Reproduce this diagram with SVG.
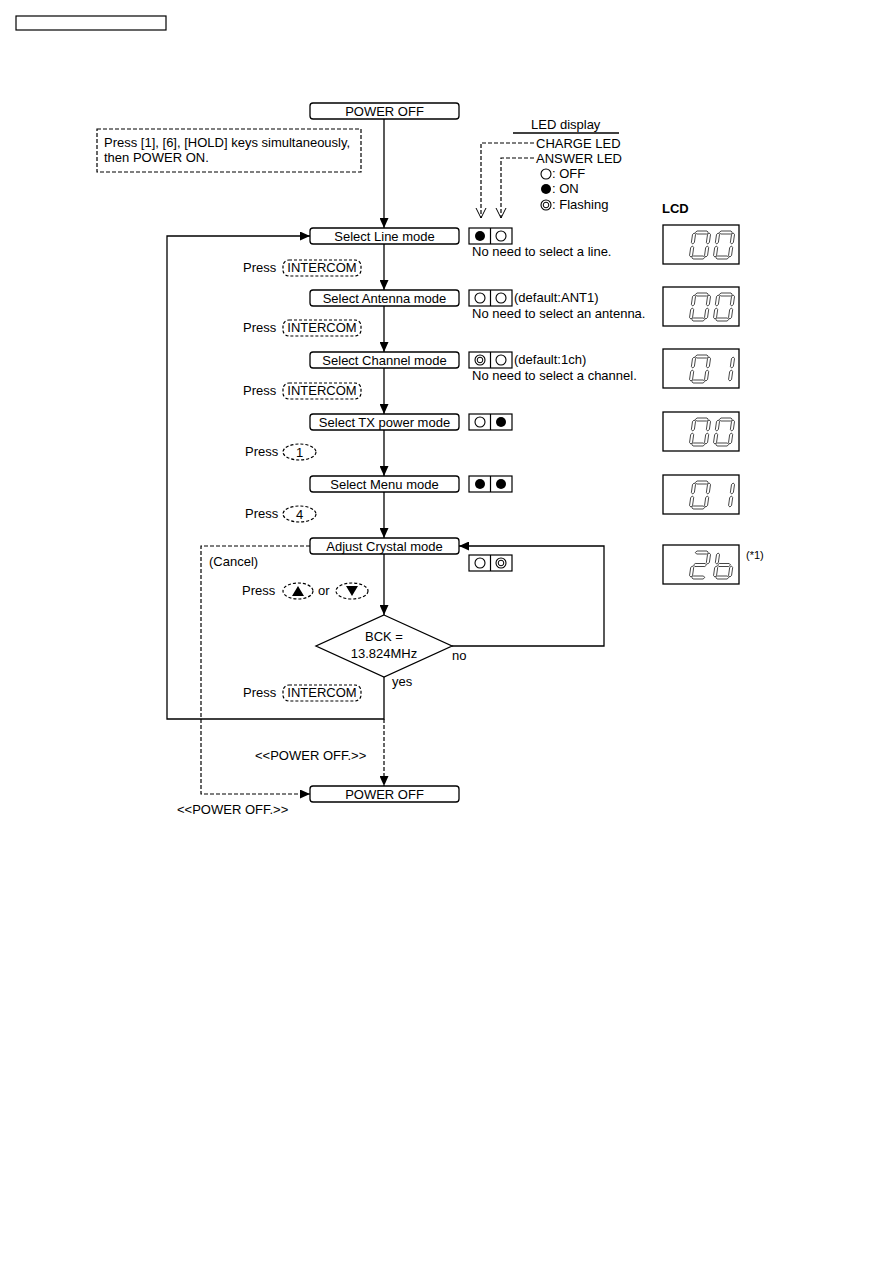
<svg xmlns="http://www.w3.org/2000/svg" width="893" height="1263" viewBox="0 0 893 1263">
<style>
text{font-family:"Liberation Sans",Arial,sans-serif;font-size:13px;fill:#000}
.c{text-anchor:middle}
.box{fill:#fff;stroke:#000;stroke-width:1.3}
.ln{fill:none;stroke:#000;stroke-width:1.3}
.dl{fill:none;stroke:#000;stroke-width:1.2;stroke-dasharray:4 2}
.key{fill:none;stroke:#000;stroke-width:1.2;stroke-dasharray:3 2}
.led{fill:#fff;stroke:#000;stroke-width:1.2}
.seg{fill:#fff;stroke:#000;stroke-width:0.7}
.lcd{fill:#fff;stroke:#000;stroke-width:1.3}
</style>
<defs>
<marker id="ah" markerWidth="10" markerHeight="9" refX="10" refY="4.5" orient="auto" markerUnits="userSpaceOnUse"><path d="M0,0 L10,4.5 L0,9 Z" fill="#000"/></marker>
<marker id="oa" markerWidth="10" markerHeight="12" refX="10" refY="6" orient="auto" markerUnits="userSpaceOnUse"><path d="M0,1 L10,6 L0,11" fill="none" stroke="#000" stroke-width="1"/></marker>
<polygon id="sa" class="seg" points="2.5,1.5 4,0 14,0 15.5,1.5 14,3 4,3"/>
<polygon id="sg" class="seg" points="2.5,14 4,12.5 14,12.5 15.5,14 14,15.5 4,15.5"/>
<polygon id="sd" class="seg" points="2.5,26.5 4,25 14,25 15.5,26.5 14,28 4,28"/>
<polygon id="sf" class="seg" points="1.5,2 3,3.5 3,11.5 1.5,13 0,11.5 0,3.5"/>
<polygon id="sb" class="seg" points="16.5,2 18,3.5 18,11.5 16.5,13 15,11.5 15,3.5"/>
<polygon id="se" class="seg" points="1.5,15 3,16.5 3,24.5 1.5,26 0,24.5 0,16.5"/>
<polygon id="sc" class="seg" points="16.5,15 18,16.5 18,24.5 16.5,26 15,24.5 15,16.5"/>
<g id="d0"><use href="#sa"/><use href="#sb"/><use href="#sc"/><use href="#sd"/><use href="#se"/><use href="#sf"/></g>
<g id="d1"><use href="#sb"/><use href="#sc"/></g>
<g id="d2"><use href="#sa"/><use href="#sb"/><use href="#sg"/><use href="#se"/><use href="#sd"/></g>
<g id="db"><use href="#sf"/><use href="#se"/><use href="#sg"/><use href="#sc"/><use href="#sd"/></g>
<g id="ledbox"><rect class="led" x="0" y="0" width="43" height="16"/><line x1="21.5" y1="0" x2="21.5" y2="16" stroke="#000" stroke-width="1.2"/></g>
<circle id="on" r="5" fill="#000"/>
<circle id="off" r="5" fill="#fff" stroke="#000" stroke-width="1.1"/>
<g id="fl"><circle r="5" fill="#fff" stroke="#000" stroke-width="1.1"/><circle r="2.8" fill="#fff" stroke="#000" stroke-width="1"/></g>
</defs>

<rect x="16" y="16" width="150" height="14" fill="#fff" stroke="#000" stroke-width="1.2"/>

<g id="connectors">
<line class="ln" x1="384" y1="119" x2="384" y2="228" marker-end="url(#ah)"/>
<line class="ln" x1="384" y1="244" x2="384" y2="290" marker-end="url(#ah)"/>
<line class="ln" x1="384" y1="306" x2="384" y2="352" marker-end="url(#ah)"/>
<line class="ln" x1="384" y1="368" x2="384" y2="414" marker-end="url(#ah)"/>
<line class="ln" x1="384" y1="430" x2="384" y2="476" marker-end="url(#ah)"/>
<line class="ln" x1="384" y1="492" x2="384" y2="538" marker-end="url(#ah)"/>
<line class="ln" x1="384" y1="554" x2="384" y2="615" marker-end="url(#ah)"/>
<polyline class="ln" points="452,646 604,646 604,546 459,546" marker-end="url(#ah)"/>
<polyline class="ln" points="384,677 384,719 167,719 167,236 310,236" marker-end="url(#ah)"/>
<line class="dl" x1="384" y1="719" x2="384" y2="786" marker-end="url(#ah)"/>
<polyline class="dl" points="310,546 201,546 201,794 310,794" marker-end="url(#ah)"/>
<polyline class="dl" points="534,143 481,143 481,218" marker-end="url(#oa)"/>
<polyline class="dl" points="534,158 501,158 501,218" marker-end="url(#oa)"/>
</g>

<g id="n-poweroff1"><rect class="box" x="310" y="103" width="149" height="16" rx="3"/><text class="c" x="384.5" y="116">POWER OFF</text></g>
<g id="n-note"><rect class="dl" x="97" y="129" width="264" height="43"/><text x="104" y="147">Press [1], [6], [HOLD] keys simultaneously,</text><text x="104" y="162">then POWER ON.</text></g>
<g id="n-line"><rect class="box" x="310" y="228" width="149" height="16" rx="3"/><text class="c" x="384.5" y="241">Select Line mode</text></g>
<g id="n-antenna"><rect class="box" x="310" y="290" width="149" height="16" rx="3"/><text class="c" x="384.5" y="303">Select Antenna mode</text></g>
<g id="n-channel"><rect class="box" x="310" y="352" width="149" height="16" rx="3"/><text class="c" x="384.5" y="365">Select Channel mode</text></g>
<g id="n-tx"><rect class="box" x="310" y="414" width="149" height="16" rx="3"/><text class="c" x="384.5" y="427">Select TX power mode</text></g>
<g id="n-menu"><rect class="box" x="310" y="476" width="149" height="16" rx="3"/><text class="c" x="384.5" y="489">Select Menu mode</text></g>
<g id="n-crystal"><rect class="box" x="310" y="538" width="149" height="16" rx="3"/><text class="c" x="384.5" y="551">Adjust Crystal mode</text></g>
<g id="n-bck"><polygon class="box" points="384,615 452,646 384,677 316,646"/><text class="c" x="384" y="641">BCK =</text><text class="c" x="384" y="658">13.824MHz</text></g>
<g id="n-poweroff2"><rect class="box" x="310" y="786" width="149" height="16" rx="3"/><text class="c" x="384.5" y="799">POWER OFF</text></g>

<g id="labels">
<text x="243" y="272">Press</text><rect class="key" x="283" y="260" width="78" height="16" rx="6"/><text class="c" x="322" y="272">INTERCOM</text>
<text x="243" y="332">Press</text><rect class="key" x="283" y="320" width="78" height="16" rx="6"/><text class="c" x="322" y="332">INTERCOM</text>
<text x="243" y="395">Press</text><rect class="key" x="283" y="383" width="78" height="16" rx="6"/><text class="c" x="322" y="395">INTERCOM</text>
<text x="245" y="456">Press</text><ellipse class="key" cx="299.5" cy="452" rx="16.5" ry="8"/><text class="c" x="299.5" y="456.5">1</text>
<text x="245" y="518">Press</text><ellipse class="key" cx="299.5" cy="514" rx="16.5" ry="8"/><text class="c" x="299.5" y="518.5">4</text>
<text x="209" y="566">(Cancel)</text>
<text x="242" y="595">Press</text><ellipse class="key" cx="298" cy="591" rx="15" ry="8"/><polygon points="292,596 298,586 304,596" fill="#000"/>
<text x="318" y="595">or</text><ellipse class="key" cx="352" cy="591" rx="16" ry="8"/><polygon points="346,586 358,586 352,596" fill="#000"/>
<text x="452" y="660">no</text>
<text x="392" y="686">yes</text>
<text x="243" y="697">Press</text><rect class="key" x="283" y="685" width="78" height="16" rx="6"/><text class="c" x="322" y="697">INTERCOM</text>
<text x="255" y="760">&lt;&lt;POWER OFF.&gt;&gt;</text>
<text x="177" y="814">&lt;&lt;POWER OFF.&gt;&gt;</text>
</g>

<g id="led-legend">
<text x="531" y="129">LED display</text>
<line x1="513" y1="133" x2="619" y2="133" stroke="#000" stroke-width="1.4"/>
<text x="536" y="148">CHARGE LED</text>
<text x="536" y="163">ANSWER LED</text>
<use href="#off" x="546" y="174" transform="translate(0,0)"/><text x="552" y="178">: OFF</text>
<use href="#on" x="546" y="189"/><text x="552" y="193">: ON</text>
<use href="#fl" x="546" y="205"/><text x="552" y="209">: Flashing</text>
</g>

<g id="leds">
<use href="#ledbox" x="469" y="228"/><use href="#on" x="480" y="236"/><use href="#off" x="501" y="236"/>
<text x="472" y="256">No need to select a line.</text>
<use href="#ledbox" x="469" y="290"/><use href="#off" x="480" y="298"/><use href="#off" x="501" y="298"/>
<text x="514" y="302">(default:ANT1)</text><text x="472" y="318">No need to select an antenna.</text>
<use href="#ledbox" x="469" y="352"/><use href="#fl" x="480" y="360"/><use href="#off" x="501" y="360"/>
<text x="514" y="364">(default:1ch)</text><text x="472" y="380">No need to select a channel.</text>
<use href="#ledbox" x="469" y="414"/><use href="#off" x="480" y="422"/><use href="#on" x="501" y="422"/>
<use href="#ledbox" x="469" y="476"/><use href="#on" x="480" y="484"/><use href="#on" x="501" y="484"/>
<use href="#ledbox" x="469" y="555"/><use href="#off" x="480" y="563"/><use href="#fl" x="501" y="563"/>
</g>

<g id="lcd">
<text x="662" y="213" style="font-weight:bold">LCD</text>
<rect class="lcd" x="663" y="225" width="76" height="39"/>
<use href="#d0" transform="translate(693,231) skewX(-8)"/><use href="#d0" transform="translate(717,231) skewX(-8)"/>
<rect class="lcd" x="663" y="287" width="76" height="39"/>
<use href="#d0" transform="translate(693,293) skewX(-8)"/><use href="#d0" transform="translate(717,293) skewX(-8)"/>
<rect class="lcd" x="663" y="349" width="76" height="39"/>
<use href="#d0" transform="translate(693,355) skewX(-8)"/><use href="#d1" transform="translate(717,355) skewX(-8)"/>
<rect class="lcd" x="663" y="412" width="76" height="39"/>
<use href="#d0" transform="translate(693,418) skewX(-8)"/><use href="#d0" transform="translate(717,418) skewX(-8)"/>
<rect class="lcd" x="663" y="475" width="76" height="39"/>
<use href="#d0" transform="translate(693,481) skewX(-8)"/><use href="#d1" transform="translate(717,481) skewX(-8)"/>
<rect class="lcd" x="663" y="545" width="76" height="39"/>
<use href="#d2" transform="translate(693,551) skewX(-8)"/><use href="#db" transform="translate(717,551) skewX(-8)"/>
<text x="746" y="559" style="font-size:11px">(*1)</text>
</g>
</svg>
